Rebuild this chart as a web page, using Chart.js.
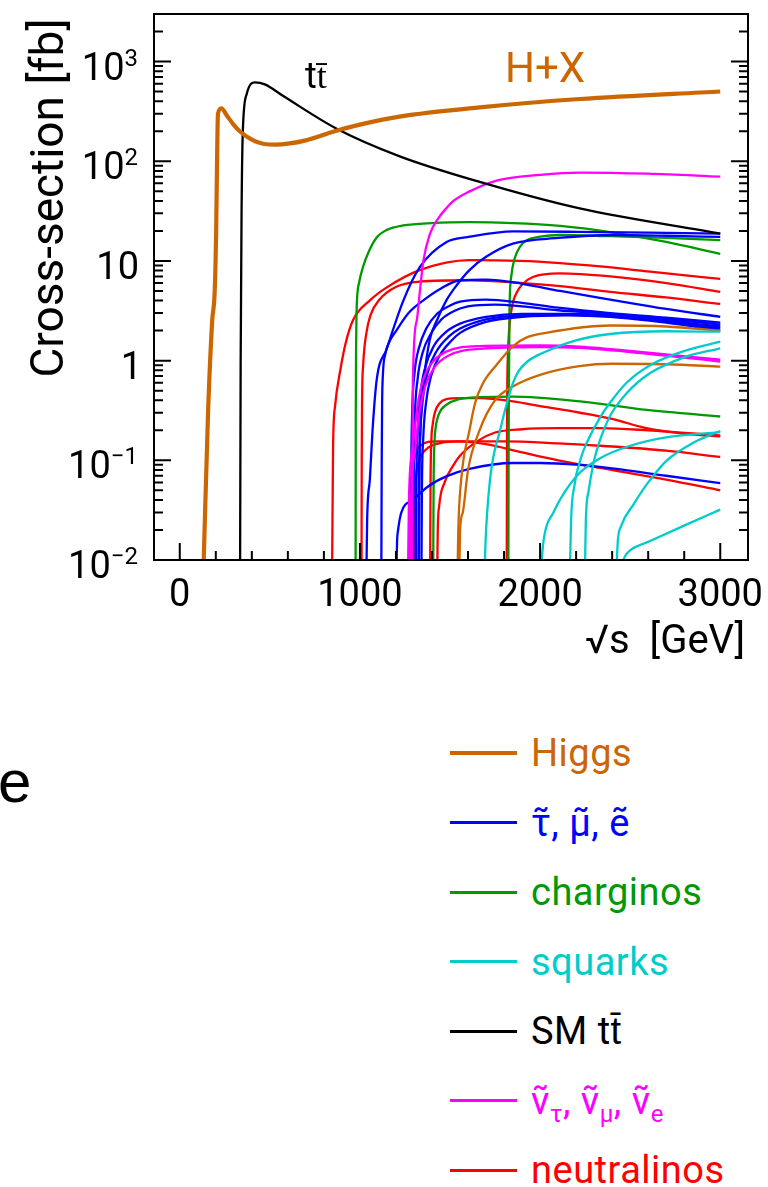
<!DOCTYPE html>
<html>
<head>
<meta charset="utf-8">
<script src="https://cdn.jsdelivr.net/npm/chart.js"></script>
<style>
  body { margin: 0; background: #fff; width: 768px; height: 1187px; position: relative; overflow: hidden; font-family: Roboto, sans-serif; }
  #plot { position: absolute; left: 0; top: 0; }
  .key { position: absolute; left: 531px; height: 50px; line-height: 50px; font-size: 38px; white-space: nowrap; letter-spacing: 0.5px; }
  .key sub { font-size: 24px; vertical-align: baseline; position: relative; top: 8px; }
  .swatch { position: absolute; left: 450px; width: 67px; }
  #stray { position: absolute; left: -2px; top: 752px; font: 60px "Liberation Sans", Arial, sans-serif; line-height: 60px; color: #000; }
</style>
</head>
<body>
<canvas id="plot" width="768" height="680"></canvas>
<div id="legend"></div>
<div id="stray">e</div>
<script>
// sqrt(s) in GeV, cross-section in fb

const higgsGeV = [133, 157, 180, 194, 202, 207, 212, 231, 260, 296, 333, 400, 481, 530, 600, 700, 860, 1000, 1220, 1665, 2220, 3000];
const higgsFb  = [0.01, 0.3, 2.5, 5, 20, 100, 300, 340, 290, 236, 200, 165, 148, 147, 150, 162, 200, 233, 280, 347, 421, 501];

const ttbarGeV = [335, 338, 343, 350, 372, 417, 472, 572, 871, 1221, 1665, 2220, 3000];
const ttbarFb  = [0.01, 1, 30, 200, 475, 617, 590, 454, 212, 112, 62, 33.6, 18.8];

// charginos
const chi1GeV = [976, 977, 979, 981, 995, 1017, 1050, 1091, 1150, 1240, 1400, 1611, 1850, 2111, 2389, 2700, 3000];
const chi1Fb  = [0.01, 0.3, 1.5, 3.0, 6.0, 8.7, 12.5, 17, 20.5, 22.7, 24, 24.5, 24, 22.5, 19.5, 15.5, 11.8];
const chi2GeV = [1824, 1826, 1830, 1840, 1858, 1890, 1923, 2000, 2108, 2389, 2700, 3000];
const chi2Fb  = [0.01, 0.3, 3, 7, 10.5, 14, 16, 17.5, 18.2, 17.7, 17, 16.2];
const chi3GeV = [1407, 1409, 1413, 1420, 1432, 1450, 1479, 1550, 1665, 1850, 2222, 2593, 3000];
const chi3Fb  = [0.01, 0.06, 0.14, 0.21, 0.27, 0.32, 0.36, 0.41, 0.43, 0.436, 0.39, 0.32, 0.275];

// neutralinos
const neu1GeV = [846, 851, 862, 891, 921, 962, 1054, 1147, 1332, 1609, 1889, 2111, 2333, 2611, 3000];
const neu1Fb  = [0.01, 0.138, 0.35, 0.8, 1.5, 2.55, 4.0, 5.4, 8.1, 10.2, 10, 9.5, 8.8, 7.8, 6.6];
const neu2GeV = [1009, 1010, 1012, 1018, 1036, 1060, 1109, 1202, 1331, 1611, 1900, 2111, 2389, 2700, 3000];
const neu2Fb  = [0.01, 0.1, 0.4, 0.9, 1.9, 2.9, 4.1, 5.5, 6.2, 6.4, 6.0, 5.6, 4.9, 4.3, 3.7];
const neu3GeV = [1815, 1817, 1822, 1828, 1836, 1850, 1870, 1900, 1960, 2108, 2389, 2700, 3000];
const neu3Fb  = [0.01, 0.3, 1.2, 2.0, 2.8, 3.9, 4.8, 5.8, 6.9, 7.5, 7.0, 6.0, 4.9];
const neu4GeV = [1390, 1392, 1396, 1404, 1418, 1440, 1480, 1560, 1665, 1850, 2000, 2222, 2400, 2590, 2800, 3000];
const neu4Fb  = [0.01, 0.06, 0.15, 0.23, 0.31, 0.37, 0.41, 0.42, 0.42, 0.39, 0.35, 0.3, 0.26, 0.21, 0.185, 0.174];
const neu5GeV = [1430, 1432, 1440, 1470, 1520, 1553, 1650, 1750, 1900, 2100, 2333, 2600, 3000];
const neu5Fb  = [0.01, 0.02, 0.035, 0.06, 0.09, 0.11, 0.155, 0.19, 0.205, 0.21, 0.21, 0.2, 0.178];
const neu6GeV = [1300, 1302, 1310, 1330, 1370, 1440, 1550, 1800, 2100, 2333, 2700, 3000];
const neu6Fb  = [0.01, 0.03, 0.065, 0.1, 0.13, 0.148, 0.155, 0.155, 0.148, 0.14, 0.125, 0.108];
const neu7GeV = [1272, 1274, 1285, 1300, 1331, 1424, 1550, 1700, 1900, 2100, 2333, 2700, 3000];
const neu7Fb  = [0.01, 0.025, 0.064, 0.1, 0.138, 0.155, 0.155, 0.145, 0.12, 0.1, 0.084, 0.064, 0.05];

// sleptons
const slep1GeV = [1037, 1040, 1055, 1070, 1093, 1148, 1241, 1333, 1481, 1611, 1850, 2200, 2600, 3000];
const slep1Fb  = [0.01, 0.025, 0.064, 0.2, 0.64, 1.3, 4.0, 8.7, 15.5, 17.5, 19.8, 19.6, 19.2, 18.8];
const slep2GeV = [1119, 1121, 1123, 1128, 1140, 1160, 1202, 1270, 1350, 1450, 1556, 1700, 1900, 2111, 2389, 2700, 3000];
const slep2Fb  = [0.01, 0.1, 0.35, 0.75, 1.15, 1.5, 2.0, 3.0, 4.0, 5.3, 6.4, 6.5, 5.9, 5.0, 4.1, 3.3, 2.75];
const slep3GeV = [1328, 1331, 1340, 1355, 1387, 1430, 1479, 1540, 1608, 1700, 1849, 2100, 2403, 2700, 3000];
const slep3Fb  = [0.01, 0.08, 0.3, 0.64, 1.6, 2.6, 4.0, 5.8, 8.1, 11, 14.9, 17.0, 18.2, 17.9, 17.4];
const slep4GeV = [1204, 1206, 1212, 1230, 1294, 1380, 1479, 1608, 1849, 2000, 2218, 2400, 2700, 3000];
const slep4Fb  = [0.01, 0.015, 0.02, 0.03, 0.04, 0.055, 0.069, 0.082, 0.094, 0.094, 0.09, 0.083, 0.07, 0.059];
const slep5GeV = [1283, 1285, 1290, 1303, 1328, 1368, 1428, 1498, 1556, 1700, 1900, 2100, 2389, 2700, 3000];
const slep5Fb  = [0.01, 0.08, 0.3, 0.75, 1.35, 2.1, 2.95, 3.55, 3.9, 4.1, 3.8, 3.4, 3.0, 2.7, 2.4];
const slep6GeV = [1297, 1299, 1305, 1320, 1348, 1393, 1453, 1523, 1600, 1750, 1900, 2100, 2389, 2700, 3000];
const slep6Fb  = [0.01, 0.07, 0.27, 0.65, 1.2, 1.85, 2.6, 3.15, 3.5, 3.65, 3.5, 3.2, 2.95, 2.6, 2.3];
const slep7GeV = [1311, 1313, 1320, 1335, 1362, 1410, 1480, 1556, 1700, 1900, 2150, 2389, 2700, 3000];
const slep7Fb  = [0.01, 0.05, 0.18, 0.45, 0.85, 1.4, 1.95, 2.35, 2.75, 2.95, 2.95, 2.85, 2.5, 2.2];
const slep8GeV = [1325, 1327, 1334, 1350, 1378, 1426, 1494, 1556, 1700, 1900, 2150, 2389, 2700, 3000];
const slep8Fb  = [0.01, 0.05, 0.17, 0.42, 0.78, 1.25, 1.75, 2.1, 2.6, 2.85, 2.9, 2.8, 2.45, 2.1];
const slep9GeV = [1342, 1344, 1351, 1367, 1395, 1442, 1510, 1556, 1700, 1900, 2150, 2389, 2700, 3000];
const slep9Fb  = [0.01, 0.05, 0.16, 0.38, 0.7, 1.12, 1.6, 1.9, 2.45, 2.75, 2.85, 2.75, 2.4, 2.0];

// sneutrinos
const snu1GeV = [1290, 1292, 1294, 1315, 1333, 1352, 1389, 1430, 1481, 1519, 1600, 1759, 2000, 2222, 2600, 3000];
const snu1Fb  = [0.01, 0.1, 0.64, 2.5, 5.0, 10, 18.8, 26, 34, 40, 49, 64, 73, 77, 75, 70];
const snu2GeV = [1268, 1272, 1294, 1320, 1350, 1400, 1479, 1664, 2000, 2218, 2600, 3000];
const snu2Fb  = [0.01, 0.04, 0.138, 0.35, 0.64, 0.95, 1.23, 1.4, 1.42, 1.38, 1.2, 1.02];
const snu3GeV = [1280, 1284, 1305, 1330, 1362, 1412, 1490, 1680, 2000, 2218, 2600, 3000];
const snu3Fb  = [0.01, 0.04, 0.12, 0.3, 0.55, 0.85, 1.12, 1.32, 1.37, 1.34, 1.17, 0.98];

// heavy Higgs states
const hh1GeV = [1543, 1546, 1562, 1608, 1640, 1680, 1757, 1850, 1923, 2034, 2389, 2700, 3000];
const hh1Fb  = [0.01, 0.02, 0.064, 0.2, 0.38, 0.58, 0.9, 1.4, 1.7, 1.9, 2.25, 2.2, 2.0];
const hh2GeV = [1553, 1556, 1571, 1600, 1664, 1750, 1849, 2000, 2218, 2400, 2700, 3000];
const hh2Fb  = [0.01, 0.02, 0.03, 0.08, 0.2, 0.4, 0.55, 0.72, 0.88, 0.93, 0.92, 0.87];

// squarks
const sq1GeV = [1694, 1697, 1722, 1778, 1850, 1880, 1930, 2017, 2200, 2389, 2700, 3000];
const sq1Fb  = [0.01, 0.015, 0.064, 0.2, 0.6, 0.78, 0.98, 1.2, 1.6, 1.85, 1.97, 1.95];
const sq2GeV = [2009, 2020, 2074, 2204, 2333, 2500, 2700, 3000];
const sq2Fb  = [0.01, 0.016, 0.03, 0.07, 0.105, 0.14, 0.17, 0.192];
const sq3GeV = [2167, 2172, 2190, 2230, 2259, 2333, 2389, 2480, 2611, 2800, 3000];
const sq3Fb  = [0.01, 0.025, 0.055, 0.11, 0.15, 0.27, 0.38, 0.6, 0.9, 1.25, 1.55];
const sq4GeV = [2250, 2254, 2270, 2300, 2333, 2389, 2480, 2611, 2800, 3000];
const sq4Fb  = [0.01, 0.025, 0.05, 0.1, 0.16, 0.28, 0.47, 0.75, 1.08, 1.33];
const sq5GeV = [2426, 2432, 2450, 2518, 2600, 2704, 2850, 3000];
const sq5Fb  = [0.01, 0.016, 0.022, 0.036, 0.06, 0.1, 0.15, 0.197];
const sq6GeV = [2463, 2470, 2500, 2611, 2796, 3000];
const sq6Fb  = [0.01, 0.0108, 0.0125, 0.0155, 0.022, 0.032];

const xTicks = [0, 1000, 2000, 3000];
const yExponents = [-2, -1, 0, 1, 2, 3];

const legendLabels = ['Higgs', 'τ̃, μ̃, ẽ', 'charginos', 'squarks', 'SM tt̄',
  'ν̃<sub>τ</sub>, ν̃<sub>μ</sub>, ν̃<sub>e</sub>', 'neutralinos'];

const ORANGE = '#cc6600', BLUE = '#0000ff', GREEN = '#009900', CYAN = '#00cccc',
      BLACK = '#000000', MAGENTA = '#ff00ff', RED = '#ff0000';
const legendColors = [ORANGE, BLUE, GREEN, CYAN, BLACK, MAGENTA, RED];

const THIN = 2.3, THICK = 4.2;

// first entry is drawn on top
const series = [
  [higgsGeV, higgsFb, ORANGE, THICK],
  [ttbarGeV, ttbarFb, BLACK, THIN],
  [sq1GeV, sq1Fb, CYAN, THIN], [sq2GeV, sq2Fb, CYAN, THIN], [sq3GeV, sq3Fb, CYAN, THIN],
  [sq4GeV, sq4Fb, CYAN, THIN], [sq5GeV, sq5Fb, CYAN, THIN], [sq6GeV, sq6Fb, CYAN, THIN],
  [hh1GeV, hh1Fb, ORANGE, THIN], [hh2GeV, hh2Fb, ORANGE, THIN],
  [snu1GeV, snu1Fb, MAGENTA, THIN], [snu2GeV, snu2Fb, MAGENTA, THIN], [snu3GeV, snu3Fb, MAGENTA, THIN],
  [slep1GeV, slep1Fb, BLUE, THIN], [slep2GeV, slep2Fb, BLUE, THIN], [slep3GeV, slep3Fb, BLUE, THIN],
  [slep4GeV, slep4Fb, BLUE, THIN], [slep5GeV, slep5Fb, BLUE, THIN], [slep6GeV, slep6Fb, BLUE, THIN],
  [slep7GeV, slep7Fb, BLUE, THIN], [slep8GeV, slep8Fb, BLUE, THIN], [slep9GeV, slep9Fb, BLUE, THIN],
  [chi1GeV, chi1Fb, GREEN, THIN], [chi2GeV, chi2Fb, GREEN, THIN], [chi3GeV, chi3Fb, GREEN, THIN],
  [neu1GeV, neu1Fb, RED, THIN], [neu2GeV, neu2Fb, RED, THIN], [neu3GeV, neu3Fb, RED, THIN],
  [neu4GeV, neu4Fb, RED, THIN], [neu5GeV, neu5Fb, RED, THIN], [neu6GeV, neu6Fb, RED, THIN],
  [neu7GeV, neu7Fb, RED, THIN]
];

function points(xs, ys) {
  return xs.map((x, i) => ({ x: x, y: ys[i] }));
}

const datasets = series.map(s => ({
  data: points(s[0], s[1]),
  borderColor: s[2],
  borderWidth: s[3],
  pointRadius: 0,
  fill: false,
  cubicInterpolationMode: 'monotone'
}));

// frame, inward ticks, tick labels and titles in ROOT style
const axesPlugin = {
  id: 'axes',
  afterDatasetsDraw(chart) {
    const ctx = chart.ctx, a = chart.chartArea;
    const xs = chart.scales.x, ys = chart.scales.y;
    ctx.save();
    ctx.strokeStyle = '#000';
    ctx.lineWidth = 2;
    ctx.strokeRect(a.left, a.top, a.right - a.left, a.bottom - a.top);

    ctx.beginPath();
    yExponents.forEach(e => {
      for (let m = 1; m <= 9; m++) {
        const v = m * Math.pow(10, e);
        if (v >= ys.max) continue;
        const py = ys.getPixelForValue(v);
        const len = m === 1 ? 17 : 9;
        ctx.moveTo(a.left, py); ctx.lineTo(a.left + len, py);
        ctx.moveTo(a.right, py); ctx.lineTo(a.right - len, py);
      }
    });
    for (let g = 0; g <= 3000; g += 200) {
      const px = xs.getPixelForValue(g);
      const len = g % 1000 === 0 ? 17 : 9;
      ctx.moveTo(px, a.bottom); ctx.lineTo(px, a.bottom - len);
    }
    ctx.stroke();

    ctx.fillStyle = '#000';
    ctx.font = '38px Roboto';
    ctx.textBaseline = 'alphabetic';
    ctx.textAlign = 'center';
    xTicks.forEach(g => ctx.fillText(String(g), xs.getPixelForValue(g), 606));

    ctx.textAlign = 'right';
    yExponents.forEach(e => {
      const py = ys.getPixelForValue(Math.pow(10, e)) + 18;
      if (e === 0) { ctx.font = '38px Roboto'; ctx.fillText('1', 142, py); return; }
      if (e === 1) { ctx.font = '38px Roboto'; ctx.fillText('10', 139, py); return; }
      const sup = e < 0 ? '\u2212' + (-e) : String(e);
      ctx.font = '24px Roboto';
      const supW = ctx.measureText(sup).width;
      ctx.fillText(sup, 138, py - 14);
      ctx.font = '38px Roboto';
      ctx.fillText('10', 138 - supW, py);
    });

    ctx.font = '40px Roboto';
    ctx.fillText('\u221As  [GeV]', 745, 653);

    ctx.save();
    ctx.translate(63, 198);
    ctx.rotate(-Math.PI / 2);
    ctx.textAlign = 'center';
    ctx.font = '46px Roboto';
    ctx.fillText('Cross-section [fb]', 0, 0);
    ctx.restore();

    ctx.textAlign = 'left';
    ctx.font = '36px Roboto';
    ctx.fillText('tt\u0304', 305, 88);
    ctx.fillStyle = ORANGE;
    ctx.font = '42px Roboto';
    ctx.fillText('H+X', 505, 82);
    ctx.restore();
  }
};

new Chart(document.getElementById('plot'), {
  type: 'line',
  data: { datasets: datasets },
  options: {
    responsive: false,
    animation: false,
    devicePixelRatio: 1,
    layout: { padding: { left: 154, top: 14, right: 20, bottom: 120 } },
    scales: {
      x: { type: 'linear', min: -143, max: 3154, display: false },
      y: { type: 'logarithmic', min: 0.01, max: 3000, display: false }
    },
    plugins: { legend: { display: false }, tooltip: { enabled: false } }
  },
  plugins: [axesPlugin]
});

// legend below the plot
const legend = document.getElementById('legend');
legendLabels.forEach((label, i) => {
  const cy = 753 + i * 69.5;
  const thick = i === 0 ? 4 : 3;
  const line = document.createElement('div');
  line.className = 'swatch';
  line.style.top = (cy - thick / 2) + 'px';
  line.style.height = thick + 'px';
  line.style.background = legendColors[i];
  legend.appendChild(line);
  const text = document.createElement('div');
  text.className = 'key';
  text.style.top = (cy - 25) + 'px';
  text.style.color = legendColors[i];
  text.innerHTML = label;
  legend.appendChild(text);
});
</script>
</body>
</html>
